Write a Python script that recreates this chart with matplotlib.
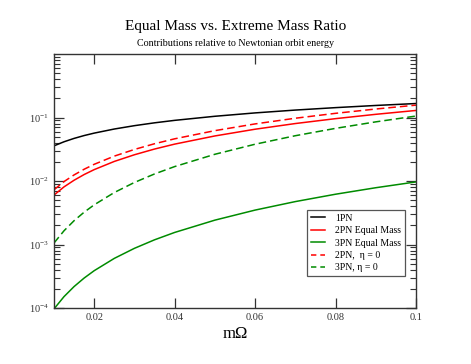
import matplotlib
matplotlib.use('Agg')
import matplotlib.pyplot as plt
from matplotlib.ticker import LogLocator, FixedLocator, NullLocator

plt.rcParams['font.family'] = ['Liberation Serif', 'DejaVu Serif']
plt.rcParams['mathtext.fontset'] = 'custom'
plt.rcParams['mathtext.rm'] = 'Liberation Serif'
plt.rcParams['mathtext.it'] = 'Liberation Serif:italic'

# values
m_omega = [0.01, 0.0125, 0.015, 0.0175, 0.02, 0.025, 0.03, 0.035, 0.04,
           0.05, 0.06, 0.07, 0.08, 0.09, 0.1]
pn1 = [0.0358, 0.0415, 0.0469, 0.0520, 0.0568, 0.0659, 0.0744, 0.0825, 0.0902,
       0.1046, 0.1182, 0.1310, 0.1431, 0.1548, 0.1661]
pn2_equal = [0.00600, 0.00809, 0.01029, 0.01265, 0.01512, 0.02035, 0.02592, 0.03188,
             0.03811, 0.05125, 0.06542, 0.08037, 0.09599, 0.1123, 0.1292]
pn3_equal = [9.68e-5, 1.513e-4, 2.178e-4, 2.965e-4, 3.872e-4, 6.05e-4, 8.71e-4, 1.186e-3,
             1.549e-3, 2.42e-3, 3.485e-3, 4.743e-3, 6.195e-3, 7.841e-3, 9.68e-3]
pn2_eta0 = [0.00727, 0.00980, 0.01248, 0.01533, 0.01833, 0.02467, 0.03142, 0.03864,
            0.04620, 0.06213, 0.07931, 0.09744, 0.1164, 0.1361, 0.1566]
pn3_eta0 = [0.001055, 0.001648, 0.002373, 0.003230, 0.004219, 0.006592, 0.009492, 0.01292,
            0.01688, 0.02637, 0.03797, 0.05168, 0.06750, 0.08543, 0.1055]

x_ticks = [0.02, 0.04, 0.06, 0.08, 0.1]
x_ticklabels = ['0.02', '0.04', '0.06', '0.08', '0.1']
y_ticks = [1e-4, 1e-3, 1e-2, 1e-1]
y_ticklabels = [r'$10^{-4}$', r'$10^{-3}$', r'$10^{-2}$', r'$10^{-1}$']

green = '#008b00'

fig = plt.figure(figsize=(4.71, 3.64), dpi=100)
ax = fig.add_axes([0.1146, 0.1538, 0.7686, 0.6978])

lw = 1.1
dash = (0, (5, 2.6))
ax.plot(m_omega, pn1, color='black', lw=lw, label='1PN')
ax.plot(m_omega, pn2_equal, color='red', lw=lw, label='2PN Equal Mass')
ax.plot(m_omega, pn3_equal, color=green, lw=lw, label='3PN Equal Mass')
ax.plot(m_omega, pn2_eta0, color='red', lw=lw, ls=dash, label='2PN,  η = 0')
ax.plot(m_omega, pn3_eta0, color=green, lw=lw, ls=dash, label='3PN, η = 0')

ax.set_yscale('log')
ax.set_xlim(0.01, 0.1)
ax.set_ylim(1e-4, 1)

ax.xaxis.set_major_locator(FixedLocator(x_ticks))
ax.xaxis.set_minor_locator(NullLocator())
ax.set_xticklabels(x_ticklabels)
ax.yaxis.set_major_locator(FixedLocator(y_ticks))
ax.set_yticklabels(y_ticklabels)
ax.yaxis.set_minor_locator(LogLocator(base=10, subs=range(2, 10), numticks=20))

ax.tick_params(which='both', direction='in', top=True, right=True,
               labelsize=7.5, colors='#333333', labelcolor='#333333')
ax.tick_params(which='major', length=7, width=0.9)
ax.tick_params(which='minor', length=4, width=0.8)
for s in ax.spines.values():
    s.set_linewidth(1.0)
    s.set_color('#333333')

ax.set_xlabel('mΩ', fontsize=12, labelpad=3)

fig.text(0.5, 0.928, 'Equal Mass vs. Extreme Mass Ratio', ha='center', va='center', fontsize=11)
fig.text(0.5, 0.880, 'Contributions relative to Newtonian orbit energy', ha='center', va='center', fontsize=7.2)

leg = ax.legend(loc='upper left', bbox_to_anchor=(0.699, 0.386), fontsize=7,
                handlelength=1.5, handletextpad=1.0, labelspacing=0.35,
                borderpad=0.4, borderaxespad=0, fancybox=False, framealpha=1)
leg.get_frame().set_edgecolor('#555555')
leg.get_frame().set_linewidth(0.9)
# shorter dashes in the legend so two dashes fit in the handle
for h in leg.get_lines()[3:]:
    h.set_linestyle((0, (3.5, 2.6)))

fig.savefig('out.png', dpi=100)
